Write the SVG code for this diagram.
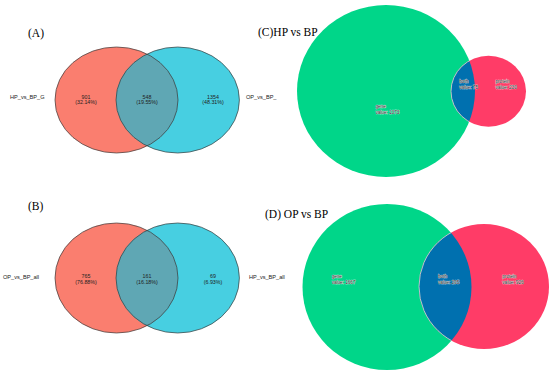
<svg xmlns="http://www.w3.org/2000/svg" width="550" height="374" viewBox="0 0 550 374">
<style>
.t{font-family:"Liberation Serif",serif;font-size:11.5px;fill:#000}
.v{font-family:"Liberation Sans",Arial,sans-serif;font-size:5.3px;fill:#222;text-anchor:middle}
.s{font-family:"Liberation Sans",Arial,sans-serif;font-size:5.6px;fill:#222}
.e{stroke:#3a3a3a;stroke-width:0.7}
.r{fill:#FA7E6F}.b{fill:#47CFE1}.i{fill:#5FA7B4}
.g{fill:#00D689}.p{fill:#FF3C67}.m{fill:#0070AF;stroke:#d8d8d8;stroke-width:0.8}
.w{font-family:"Liberation Sans",Arial,sans-serif;font-size:4.6px;fill:#1a1a1a;stroke:#f4f4f4;stroke-width:0.5;paint-order:stroke;stroke-linejoin:round}
</style>
<defs>
<clipPath id="cA"><ellipse cx="177.7" cy="100" rx="61.7" ry="53"/></clipPath>
<clipPath id="cB"><ellipse cx="177.7" cy="278" rx="61.7" ry="55"/></clipPath>
<clipPath id="cC"><ellipse cx="386" cy="91" rx="89" ry="86"/></clipPath>
<clipPath id="cD"><ellipse cx="387" cy="287" rx="84.5" ry="83"/></clipPath>
</defs>
<rect width="550" height="374" fill="#fff"/>

<g id="panelA">
<text class="t" x="28" y="37">(A)</text>
<ellipse class="r" cx="116.5" cy="100" rx="61.5" ry="53"/>
<ellipse class="b" cx="177.7" cy="100" rx="61.7" ry="53"/>
<ellipse class="i" cx="116.5" cy="100" rx="61.5" ry="53" clip-path="url(#cA)"/>
<ellipse class="e" fill="none" cx="116.5" cy="100" rx="61.5" ry="53"/>
<ellipse class="e" fill="none" cx="177.7" cy="100" rx="61.7" ry="53"/>
<text class="s" x="10" y="99">HP_vs_BP_G</text>
<text class="s" x="246" y="99">OP_vs_BP_</text>
<text class="v" x="86" y="98.5">901</text><text class="v" x="86" y="103.5">(32.14%)</text>
<text class="v" x="147" y="98.5">548</text><text class="v" x="147" y="103.5">(19.55%)</text>
<text class="v" x="213" y="98.5">1354</text><text class="v" x="213" y="103.5">(48.31%)</text>
</g>

<g id="panelB">
<text class="t" x="28" y="210">(B)</text>
<ellipse class="r" cx="116.5" cy="278" rx="61.5" ry="55"/>
<ellipse class="b" cx="177.7" cy="278" rx="61.7" ry="55"/>
<ellipse class="i" cx="116.5" cy="278" rx="61.5" ry="55" clip-path="url(#cB)"/>
<ellipse class="e" fill="none" cx="116.5" cy="278" rx="61.5" ry="55"/>
<ellipse class="e" fill="none" cx="177.7" cy="278" rx="61.7" ry="55"/>
<text class="s" x="3" y="279">OP_vs_BP_all</text>
<text class="s" x="249" y="279">HP_vs_BP_all</text>
<text class="v" x="86" y="278">765</text><text class="v" x="86" y="283.5">(76.88%)</text>
<text class="v" x="147" y="278">161</text><text class="v" x="147" y="283.5">(16.18%)</text>
<text class="v" x="213" y="278">69</text><text class="v" x="213" y="283.5">(6.93%)</text>
</g>

<g id="panelC">
<text class="t" x="258" y="36">(C)HP vs BP</text>
<ellipse class="g" cx="386" cy="91" rx="89" ry="86"/>
<ellipse class="p" cx="488.5" cy="91.3" rx="37.5" ry="35.5"/>
<ellipse class="m" cx="488.5" cy="91.3" rx="37.5" ry="35.5" clip-path="url(#cC)"/>
<text class="w" x="375.5" y="107.5">gene</text><text class="w" x="375.5" y="113.5">value: 1373</text>
<text class="w" x="459.3" y="82.5">both</text><text class="w" x="459.3" y="89">value: 75</text>
<text class="w" x="495.5" y="82.5">protein</text><text class="w" x="495.5" y="89">value: 230</text>
</g>

<g id="panelD">
<text class="t" x="265" y="218">(D) OP vs BP</text>
<ellipse class="g" cx="387" cy="287" rx="84.5" ry="83"/>
<ellipse class="p" cx="484" cy="286.5" rx="65" ry="62.5"/>
<ellipse class="m" cx="484" cy="286.5" rx="65" ry="62.5" clip-path="url(#cD)"/>
<text class="w" x="331.7" y="277.5">gene</text><text class="w" x="331.7" y="284">value: 1667</text>
<text class="w" x="438" y="277.5">both</text><text class="w" x="438" y="284">value: 295</text>
<text class="w" x="502.3" y="277.5">protein</text><text class="w" x="502.3" y="284">value: 926</text>
</g>
<g id="connectors"/>
</svg>
